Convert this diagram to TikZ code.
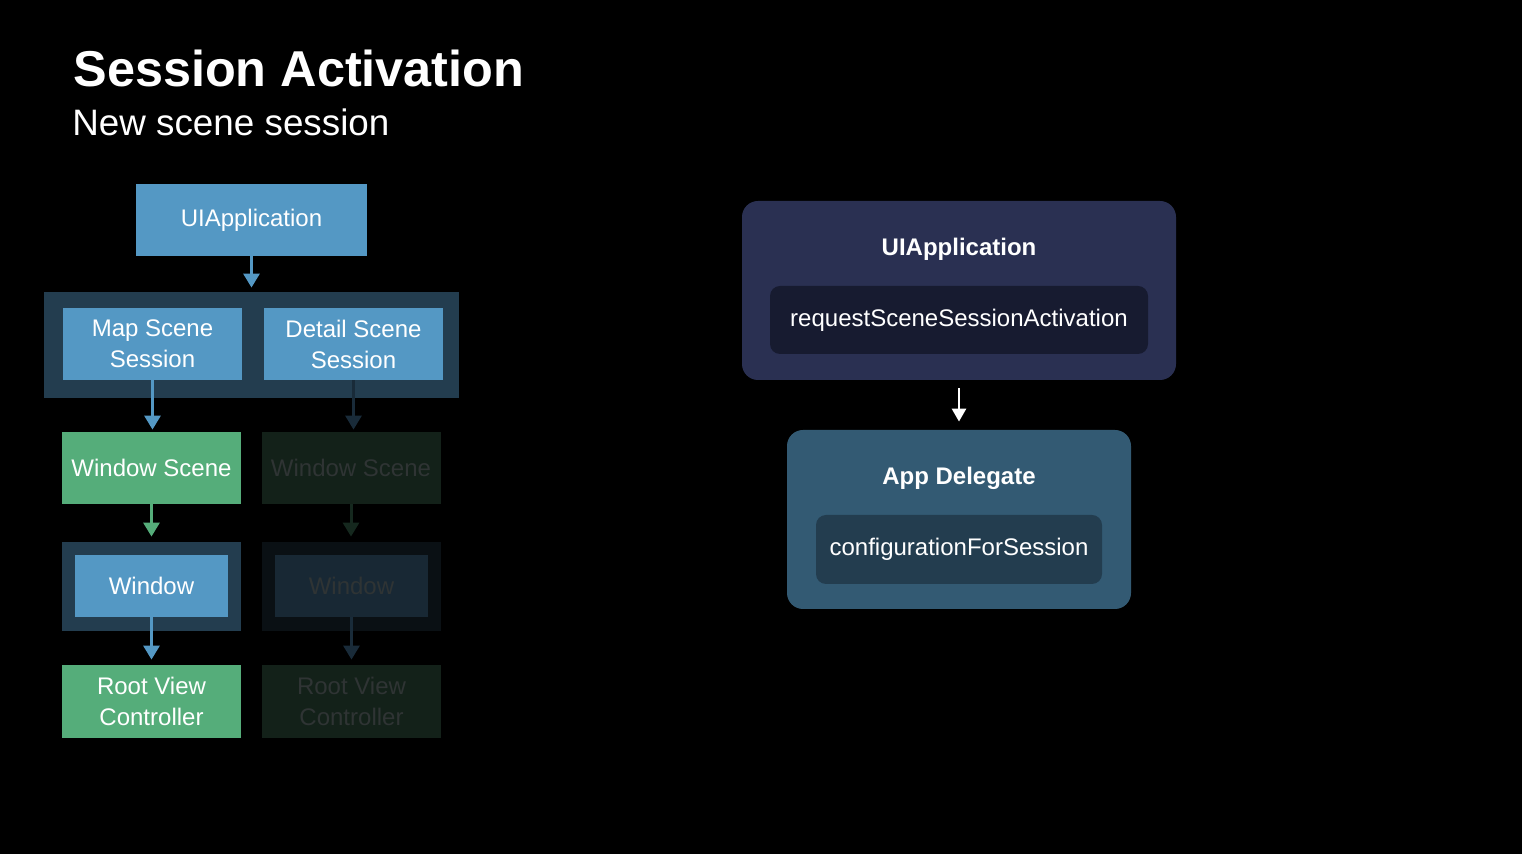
\documentclass[tikz,border=0pt]{standalone}
\usepackage{fontspec}
\setmainfont{Liberation Sans}
\usetikzlibrary{arrows.meta}
\definecolor{sceneBlue}{RGB}{84, 152, 196}
\definecolor{sceneGreen}{RGB}{85, 173, 122}
\definecolor{groupBlue}{RGB}{35, 61, 79}
\definecolor{dimGreen}{RGB}{19, 33, 25}
\definecolor{dimGroup}{RGB}{10, 16, 20}
\definecolor{dimBlue}{RGB}{24, 40, 52}
\definecolor{dimText}{RGB}{47, 52, 52}
\definecolor{dimArrowBlue}{RGB}{25, 43, 57}
\definecolor{dimArrowGreen}{RGB}{21, 40, 30}
\definecolor{navyOuter}{RGB}{42, 48, 82}
\definecolor{navyInner}{RGB}{23, 27, 48}
\definecolor{tealOuter}{RGB}{51, 90, 115}
\definecolor{tealInner}{RGB}{35, 61, 79}
\tikzset{
  label12/.style={font=\fontsize{12}{15.5}\selectfont, align=center, inner sep=0pt},
  boxnode/.style={label12, minimum width=89.5pt, minimum height=36pt},
  litbox/.style={boxnode, fill=sceneBlue, text=white},
  greenbox/.style={boxnode, fill=sceneGreen, text=white},
  dimbox/.style={boxnode, fill=dimGreen, text=dimText},
  flowarrow/.style={-{Triangle[width=8pt,length=7pt]}, line width=1.5pt},
  panel/.style={rounded corners=8pt, inner sep=0pt},
  methodbox/.style={label12, text=white, rounded corners=5pt, minimum height=34pt}
}
\begin{document}
\begin{tikzpicture}[x=0.5pt, y=-0.5pt]
\fill[black] (0,0) rectangle (1522,854);
\useasboundingbox (0,0) rectangle (1522,854);
% Title
\node[anchor=base west, inner sep=0pt, text=white, font=\fontsize{25.2}{30}\selectfont\bfseries] (title) at (73,87) {Session Activation};
\node[anchor=base west, inner sep=0pt, text=white, font=\fontsize{18.4}{24}\selectfont] (subtitle) at (72,136) {New scene session};

% Left hierarchy
\node[litbox, minimum width=115.5pt] (appL) at (251.5,220) {UIApplication};
\node[fill=groupBlue, minimum width=207.5pt, minimum height=53pt, inner sep=0pt] (sessGroup) at (251.5,345) {};
\node[litbox] (mapSess) at (152.5,344) {Map Scene\\Session};
\node[litbox] (detailSess) at (353.5,344) {Detail Scene\\Session};
\node[greenbox] (sceneA) at (151.5,468) {Window Scene};
\node[dimbox] (sceneB) at (351,468) {Window Scene};
\node[fill=groupBlue, minimum width=89.5pt, minimum height=44.5pt, inner sep=0pt] (winGroupA) at (151.5,586.5) {};
\node[fill=dimGroup, minimum width=89.5pt, minimum height=44.5pt, inner sep=0pt] (winGroupB) at (351,586.5) {};
\node[litbox, minimum width=76.5pt, minimum height=31pt] (winA) at (151.5,586) {Window};
\node[boxnode, fill=dimBlue, text=dimText, minimum width=76.5pt, minimum height=31pt] (winB) at (351.5,586) {Window};
\node[greenbox, minimum height=36.5pt] (rootA) at (151.5,701.5) {Root View\\Controller};
\node[dimbox, minimum height=36.5pt] (rootB) at (351.5,701.5) {Root View\\Controller};

\draw[flowarrow, sceneBlue, shorten >=2pt] (appL) -- (sessGroup);
\draw[flowarrow, sceneBlue, shorten >=1pt] (mapSess) -- (sceneA.north -| mapSess.south);
\draw[flowarrow, dimArrowBlue, shorten >=1pt] (detailSess) -- (sceneB.north -| detailSess.south);
\draw[flowarrow, sceneGreen, shorten >=2.5pt] (sceneA) -- (winGroupA);
\draw[flowarrow, dimArrowGreen, shorten >=2.5pt] (sceneB) -- (winGroupB);
\draw[flowarrow, sceneBlue, shorten >=2.5pt] (winA) -- (rootA);
\draw[flowarrow, dimArrowBlue, shorten >=2.5pt] (winB) -- (rootB);

% Right side calls
\node[panel, fill=navyOuter, minimum width=217pt, minimum height=89.5pt] (appR) at (959,290.5) {};
\node[label12, text=white, font=\fontsize{12}{15.5}\selectfont\bfseries] (appRTitle) at (959,249) {UIApplication};
\node[methodbox, fill=navyInner, minimum width=189pt] (requestCall) at (959,320) {requestSceneSessionActivation};
\node[panel, fill=tealOuter, minimum width=172pt, minimum height=89.5pt] (delegate) at (959,519.5) {};
\node[label12, text=white, font=\fontsize{12}{15.5}\selectfont\bfseries] (delegateTitle) at (959,478) {App Delegate};
\node[methodbox, fill=tealInner, minimum width=143pt, minimum height=34.5pt] (configCall) at (959,549.5) {configurationForSession};

\draw[-{Triangle[width=7pt,length=6.5pt]}, line width=1.4pt, white, shorten <=4pt, shorten >=4pt] (appR) -- (delegate);
\end{tikzpicture}
\end{document}
